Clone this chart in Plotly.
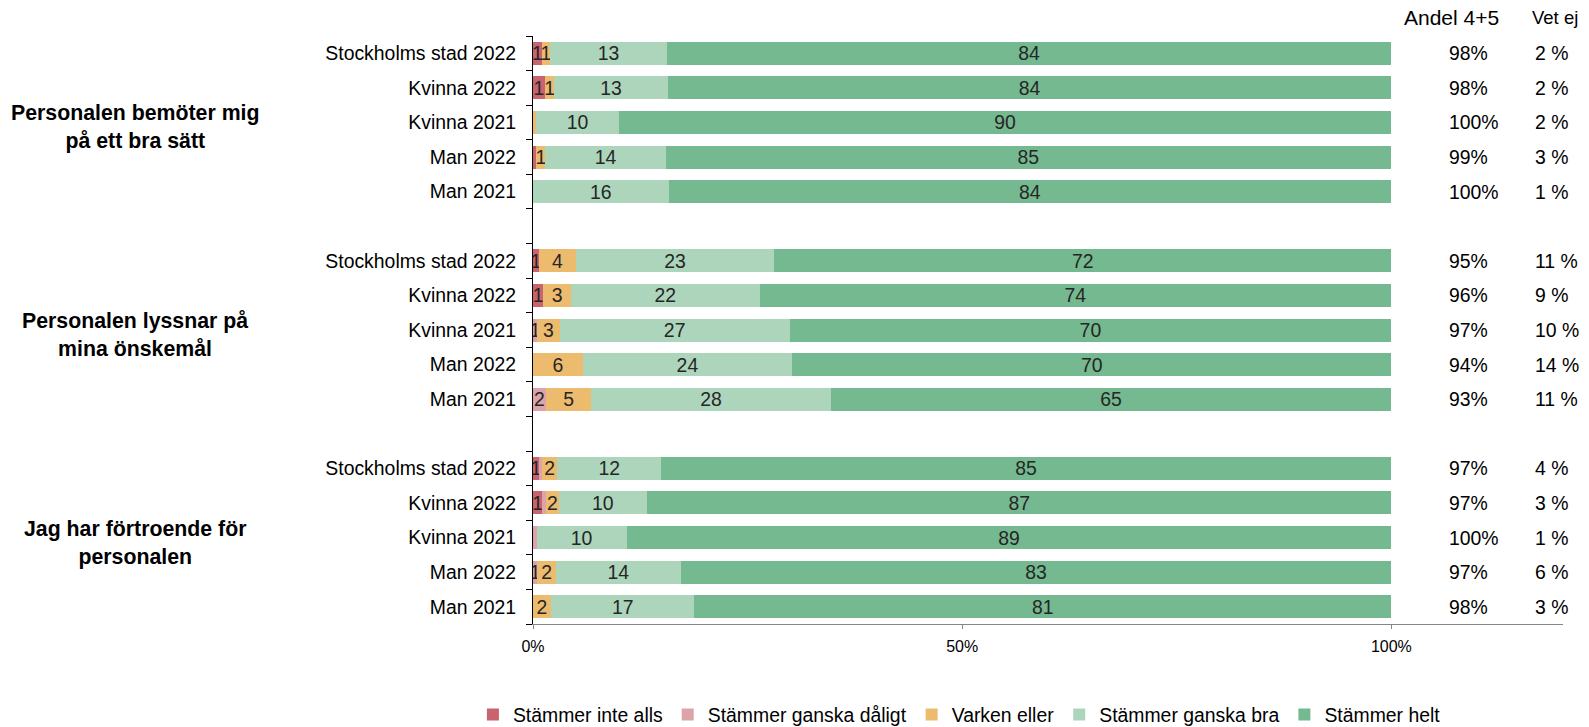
import plotly.graph_objects as go

# categories
groups = ["Personalen bemöter mig<br>på ett bra sätt",
          "Personalen lyssnar på<br>mina önskemål",
          "Jag har förtroende för<br>personalen"]
rows = ["Stockholms stad 2022", "Kvinna 2022", "Kvinna 2021", "Man 2022", "Man 2021"]
series = ["Stämmer inte alls", "Stämmer ganska dåligt", "Varken eller",
          "Stämmer ganska bra", "Stämmer helt"]
colors = ["#C9636D", "#DDA3AA", "#EDBB6E", "#ADD5BC", "#75B990"]

# values per group (percent), rows in the order above
inte_alls = [[1.0, 1.4, 0.0, 0.4, 0.0], [0.7, 1.2, 0.0, 0.0, 0.0], [0.7, 1.1, 0.0, 0.0, 0.0]]
ganska_daligt = [[0.0, 0.0, 0.0, 0.0, 0.0], [0.0, 0.0, 0.5, 0.0, 1.5], [0.35, 0.4, 0.45, 0.5, 0.0]]
varken = [[1.0, 1.1, 0.4, 1.05, 0.0], [4.3, 3.2, 2.6, 5.8, 5.3], [1.8, 1.5, 0.0, 2.2, 2.1]]
ganska_bra = [[13.6, 13.2, 9.6, 14.0, 15.8], [23.1, 22.0, 26.8, 24.4, 27.9], [12.05, 10.3, 10.45, 14.5, 16.7]]
helt = [[84.4, 84.3, 90.0, 84.5, 84.2], [71.9, 73.6, 70.1, 69.8, 65.3], [85.1, 86.7, 89.1, 82.8, 81.2]]

# labels printed in the segments
lbl_inte_alls = [["1", "1", "", "", ""], ["1", "1", "", "", ""], ["1", "1", "", "", ""]]
lbl_ganska_daligt = [["", "", "", "", ""], ["", "", "1", "", "2"], ["", "", "", "1", ""]]
lbl_varken = [["1", "1", "", "1", ""], ["4", "3", "3", "6", "5"], ["2", "2", "", "2", "2"]]
lbl_ganska_bra = [["13", "13", "10", "14", "16"], ["23", "22", "27", "24", "28"], ["12", "10", "10", "14", "17"]]
lbl_helt = [["84", "84", "90", "85", "84"], ["72", "74", "70", "70", "65"], ["85", "87", "89", "83", "81"]]

andel = [[98, 98, 100, 99, 100], [95, 96, 97, 94, 93], [97, 97, 100, 97, 98]]
vet_ej = [[2, 2, 2, 3, 1], [11, 9, 10, 14, 11], [4, 3, 1, 6, 3]]

FONT = "Liberation Sans, Arial, sans-serif"
FS = 19.4
step = len(rows) + 1  # one empty row between groups

ypos, ylab = [], []
for g in range(len(groups)):
    for r, name in enumerate(rows):
        ypos.append(g * step + r)
        ylab.append(name)


def flat(lst):
    return [v for grp in lst for v in grp]


fig = go.Figure()
for name, col, vals, lbls in zip(series, colors,
                                 [inte_alls, ganska_daligt, varken, ganska_bra, helt],
                                 [lbl_inte_alls, lbl_ganska_daligt, lbl_varken, lbl_ganska_bra, lbl_helt]):
    fig.add_trace(go.Bar(
        y=ypos, x=flat(vals), orientation="h", name=name,
        marker=dict(color=col, line=dict(width=0)),
        text=flat(lbls), textposition="inside", insidetextanchor="middle",
        textangle=0, constraintext="none",
        textfont=dict(family=FONT, size=FS, color="#262626"),
        hoverinfo="skip",
    ))

annotations = []
for g, gname in enumerate(groups):
    annotations.append(dict(
        xref="paper", yref="y", x=-0.3864, y=g * step + 2, yshift=-5,
        text="<b>" + gname + "</b>", showarrow=False, xanchor="center", yanchor="middle",
        font=dict(family=FONT, size=21.3, color="#000000"), align="center"))
    for r in range(len(rows)):
        y = g * step + r
        annotations.append(dict(
            xref="x", yref="y", x=106.5, y=y, text=f"{andel[g][r]}%",
            showarrow=False, xanchor="left", yanchor="middle",
            font=dict(family=FONT, size=FS, color="#000000")))
        annotations.append(dict(
            xref="x", yref="y", x=116.5, y=y, text=f"{vet_ej[g][r]} %",
            showarrow=False, xanchor="left", yanchor="middle",
            font=dict(family=FONT, size=FS, color="#000000")))

annotations.append(dict(xref="x", yref="paper", x=101.3, y=1.031, text="Andel 4+5",
                        showarrow=False, xanchor="left", yanchor="middle",
                        font=dict(family=FONT, size=21, color="#000000")))
annotations.append(dict(xref="x", yref="paper", x=116.2, y=1.031, text="Vet ej",
                        showarrow=False, xanchor="left", yanchor="middle",
                        font=dict(family=FONT, size=18.5, color="#000000")))

last = len(groups) * step - 2
fig.update_layout(
    barmode="stack", bargap=0.335,
    width=1581, height=727,
    margin=dict(l=525, r=26, t=27.5, b=111, autoexpand=False),
    paper_bgcolor="white", plot_bgcolor="white",
    font=dict(family=FONT, size=FS, color="#000000"),
    uniformtext=dict(minsize=FS, mode="show"),
    legend=dict(orientation="h", x=0.414, xanchor="center",
                yref="container", y=0.0275, yanchor="middle",
                traceorder="normal", itemwidth=30, itemclick=False,
                font=dict(family=FONT, size=FS, color="#000000")),
    annotations=annotations,
    xaxis=dict(range=[0, 120], tickvals=[0, 50, 100], ticktext=["0%", "50%", "100%"],
               showgrid=False, zeroline=False, showline=True, linecolor="#868686", linewidth=1,
               ticks="outside", ticklen=4, tickcolor="#868686", ticklabelstandoff=4,
               tickfont=dict(family=FONT, size=16, color="#000000"), fixedrange=True),
    yaxis=dict(range=[last + 0.5, -0.5], tickvals=ypos, ticktext=ylab,
               showgrid=False, zeroline=False, showline=True, linecolor="#000000", linewidth=1,
               ticks="", ticklabelstandoff=12,
               minor=dict(tickvals=[i - 0.5 for i in range(last + 2)], ticks="outside",
                          ticklen=6, tickcolor="#000000", showgrid=False),
               tickfont=dict(family=FONT, size=FS, color="#000000"), fixedrange=True),
)

fig.write_html("out.html")
